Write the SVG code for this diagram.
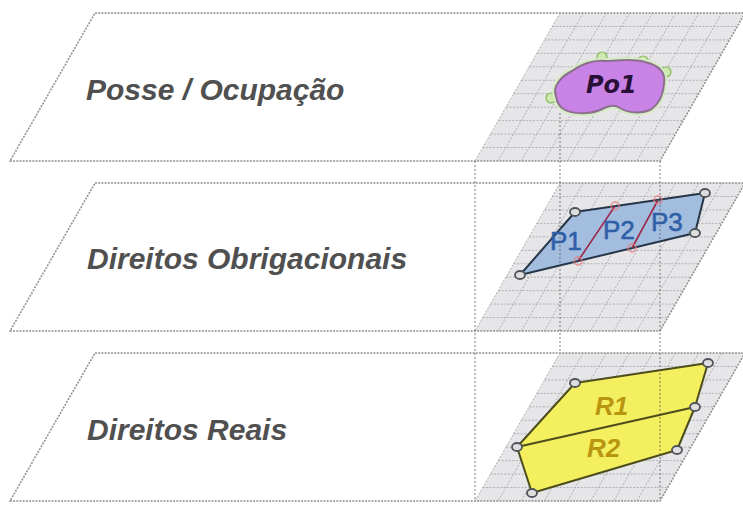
<svg xmlns="http://www.w3.org/2000/svg" xmlns:xlink="http://www.w3.org/1999/xlink" width="743" height="505" viewBox="0 0 743 505">
<style>
.sheet{fill:#ffffff;stroke:none}
.gridfill{fill:#e6e6e8;stroke:none}
.gridline{fill:none;stroke:#afafb3;stroke-width:1;stroke-dasharray:2,1.5}
.edge{fill:none;stroke:#8e8e8e;stroke-width:1.5;stroke-dasharray:2,1.2}
.layerlabel{font-family:"Liberation Sans",Arial,sans-serif;font-weight:bold;font-style:italic;font-size:30px;fill:#505050}
.proj{fill:none;stroke:#555555;stroke-width:1;stroke-dasharray:2,2;opacity:0.75}
.vtx{fill:#dedede;stroke:#4f545a;stroke-width:1.8}
.redvtx{fill:none;stroke:#ea7a7a;stroke-width:1.4;opacity:0.8}
.plabel{font-family:"Liberation Sans",Arial,sans-serif;font-size:26px;fill:#3060a8;stroke:#3060a8;stroke-width:0.6}
.rlabel{font-family:"Liberation Sans",Arial,sans-serif;font-weight:bold;font-style:italic;font-size:26px;fill:#b9960f}
</style>
<defs>
<g id="layer">
<polygon class="sheet" points="95,13 745,13 660,161 10,161"/>
<polygon class="gridfill" points="560,13 745,13 660,161 475,161"/>
<path class="gridline" d="M560,13 L475,161 M583.13,13 L498.13,161 M606.25,13 L521.25,161 M629.38,13 L544.38,161 M652.5,13 L567.5,161 M675.63,13 L590.63,161 M698.75,13 L613.75,161 M721.88,13 L636.88,161 M552.27,26.45 H737.27 M544.55,39.91 H729.55 M536.82,53.36 H721.82 M529.09,66.82 H714.09 M521.36,80.27 H706.36 M513.64,93.73 H698.64 M505.91,107.18 H690.91 M498.18,120.64 H683.18 M490.45,134.09 H675.45 M482.73,147.55 H667.73"/>
<polygon class="edge" points="95,13 745,13 660,161 10,161"/>
</g>
</defs>
<rect width="743" height="505" fill="#ffffff"/>

<g id="layer-posse">
<use xlink:href="#layer" href="#layer"/>
<text class="layerlabel" x="86" y="100">Posse / Ocupação</text>
</g>

<g id="layer-obrigacionais">
<use xlink:href="#layer" href="#layer" y="170"/>
<text class="layerlabel" x="87" y="269">Direitos Obrigacionais</text>
</g>

<g id="layer-reais">
<use xlink:href="#layer" href="#layer" y="340"/>
<text class="layerlabel" x="87" y="440">Direitos Reais</text>
</g>

<g id="po1">
<circle cx="602" cy="57" r="5" fill="#cfe8b0" stroke="#86b85a" stroke-width="1.2"/>
<circle cx="643" cy="61" r="5" fill="#cfe8b0" stroke="#86b85a" stroke-width="1.2"/>
<circle cx="666" cy="72" r="5" fill="#cfe8b0" stroke="#86b85a" stroke-width="1.2"/>
<circle cx="551" cy="98" r="5" fill="#cfe8b0" stroke="#86b85a" stroke-width="1.2"/>
<path d="M556,96 C552,86 562,76 572,71 C582,64 592,60 605,61 C618,61 630,58 645,62 C658,65 666,72 664,84 C663,94 660,104 650,110 C640,114 628,113 620,108 C614,104 608,106 600,110 C588,115 570,114 562,108 C557,104 557,100 556,96 Z" fill="none" stroke="#d4ecc0" stroke-width="6"/>
<path d="M556,96 C552,86 562,76 572,71 C582,64 592,60 605,61 C618,61 630,58 645,62 C658,65 666,72 664,84 C663,94 660,104 650,110 C640,114 628,113 620,108 C614,104 608,106 600,110 C588,115 570,114 562,108 C557,104 557,100 556,96 Z" fill="#c983e6" stroke="#8c6f8e" stroke-width="2"/>
<text x="586" y="93" font-family="DejaVu Sans, sans-serif" font-weight="bold" font-style="italic" font-size="24" fill="#2a1038">Po1</text>
</g>

<g id="parcelas-p">
<polygon points="520,275 575,212 705,193 695,233" fill="#a3bddf" stroke="#263648" stroke-width="2" stroke-linejoin="round"/>
<path d="M615,206 L578,261 M658,200 L632,248" fill="none" stroke="#9a2a4a" stroke-width="1.6"/>
<circle class="redvtx" cx="615" cy="206" r="4"/>
<circle class="redvtx" cx="578" cy="261" r="4"/>
<circle class="redvtx" cx="658" cy="200" r="4"/>
<circle class="redvtx" cx="632" cy="248" r="4"/>
<ellipse class="vtx" cx="520" cy="275" rx="5" ry="4"/>
<ellipse class="vtx" cx="575" cy="212" rx="5" ry="4"/>
<ellipse class="vtx" cx="705" cy="193" rx="5" ry="4"/>
<ellipse class="vtx" cx="695" cy="233" rx="5" ry="4"/>
<text class="plabel" x="550" y="250">P1</text>
<text class="plabel" x="603" y="239">P2</text>
<text class="plabel" x="651" y="231">P3</text>
</g>

<g id="parcelas-r">
<polygon points="575,383 708,363 695,407 677,450 532,493 517,447" fill="#f3ef5e" stroke="#4d4d1c" stroke-width="2" stroke-linejoin="round"/>
<path d="M517,447 L695,407" fill="none" stroke="#4d4d1c" stroke-width="2"/>
<ellipse class="vtx" cx="575" cy="383" rx="5" ry="4"/>
<ellipse class="vtx" cx="708" cy="363" rx="5" ry="4"/>
<ellipse class="vtx" cx="695" cy="407" rx="5" ry="4"/>
<ellipse class="vtx" cx="677" cy="450" rx="5" ry="4"/>
<ellipse class="vtx" cx="532" cy="493" rx="5" ry="4"/>
<ellipse class="vtx" cx="517" cy="447" rx="5" ry="4"/>
<text class="rlabel" x="595" y="415">R1</text>
<text class="rlabel" x="587" y="457">R2</text>
</g>

<g id="connectors">
<line class="proj" x1="560" y1="113" x2="560" y2="353"/>
<line class="proj" x1="475" y1="161" x2="475" y2="501"/>
<line class="proj" x1="660" y1="161" x2="660" y2="501"/>
</g>
</svg>
